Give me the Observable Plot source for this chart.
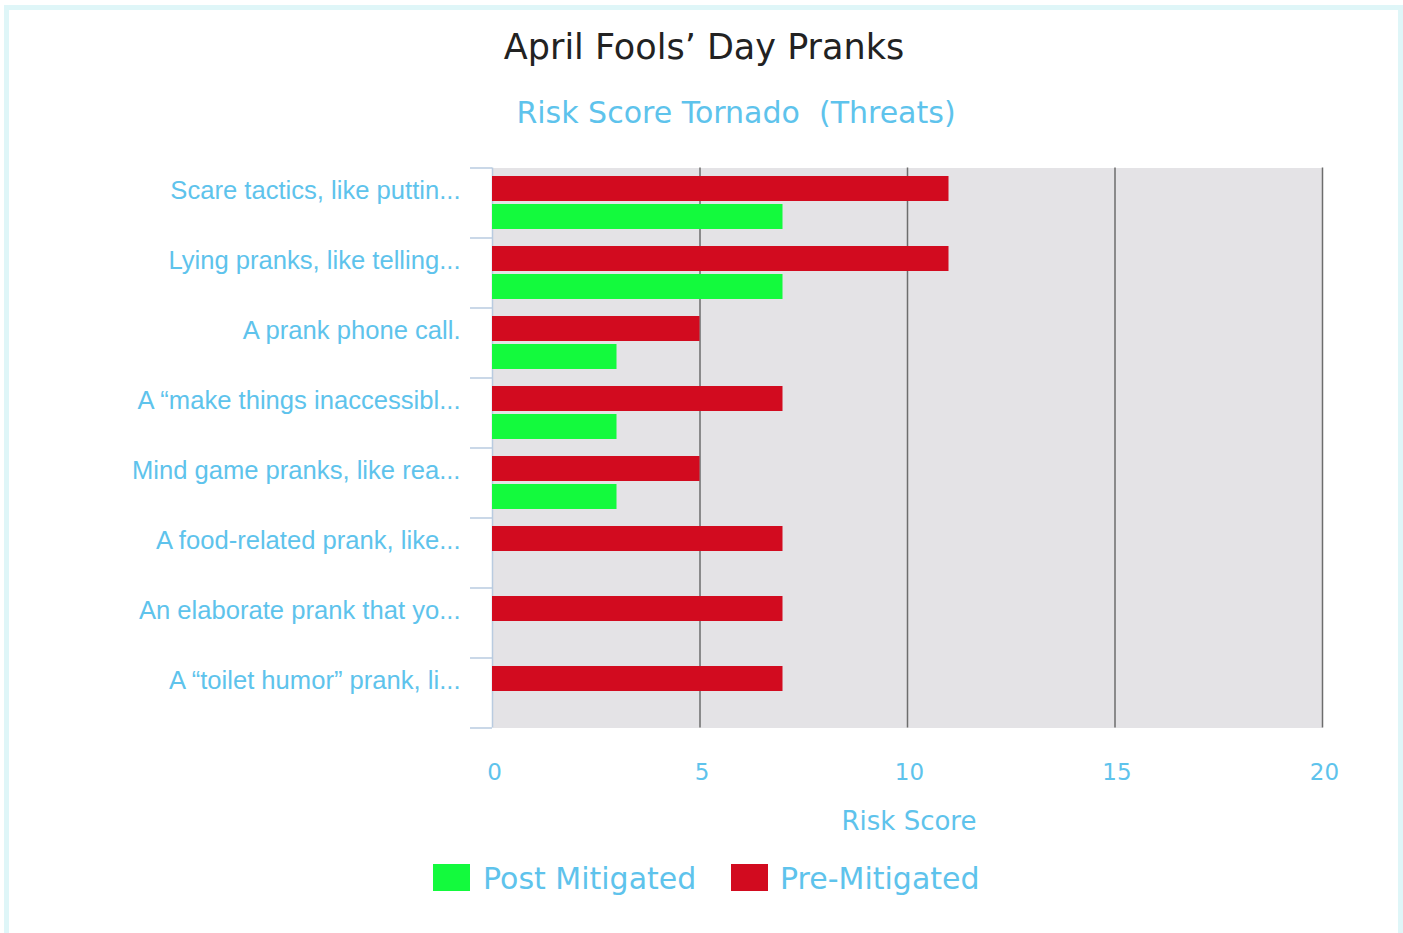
<!DOCTYPE html>
<html><head><meta charset="utf-8">
<script src="https://cdn.jsdelivr.net/npm/d3@7"></script>
<script src="https://cdn.jsdelivr.net/npm/@observablehq/plot@0.6"></script>
<style>
body{margin:0;background:#fff;width:1403px;height:933px;position:relative;overflow:hidden;font-family:"DejaVu Sans",sans-serif}
#frame{position:absolute;left:4px;top:5px;width:1389px;height:940px;border:5px solid #dff6f8;box-sizing:content-box}
.t{position:absolute;white-space:pre}
#title{left:0;width:1408px;text-align:center;top:27px;line-height:40px;font-size:35px;color:#222}
#subtitle{left:0;width:1472px;text-align:center;top:95px;line-height:36px;font-size:30px;color:#5ec3ec}
#xlabel{left:0;width:1818px;text-align:center;top:806px;line-height:30px;font-size:26px;color:#5ec3ec}
.sw{position:absolute;top:864px;width:37px;height:27px}
.lt{position:absolute;top:861px;line-height:36px;font-size:30px;color:#5ec3ec;white-space:pre}
#chart{position:absolute;left:0;top:0}
</style></head>
<body>
<div id="frame"></div>
<div id="title" class="t"></div>
<div id="subtitle" class="t"></div>
<div id="chart"></div>
<div id="xlabel" class="t"></div>
<div id="legend"></div>
<script>
const titleText = "April Fools’ Day Pranks";
const subtitleText = "Risk Score Tornado  (Threats)";
const xLabel = "Risk Score";
const categories = [
  "Scare tactics, like puttin...",
  "Lying pranks, like telling...",
  "A prank phone call.",
  "A “make things inaccessibl...",
  "Mind game pranks, like rea...",
  "A food-related prank, like...",
  "An elaborate prank that yo...",
  "A “toilet humor” prank, li..."
];
const preMitigated = [11, 11, 5, 7, 5, 7, 7, 7];
const postMitigated = [7, 7, 3, 3, 3, null, null, null];
const seriesNames = ["Post Mitigated", "Pre-Mitigated"];
const seriesColors = ["#13fa3d", "#d20b1f"];
const xTicks = [0, 5, 10, 15, 20];
const gridTicks = [5, 10, 15, 20];
const cyan = "#5ec3ec";

document.getElementById("title").textContent = titleText;
document.getElementById("subtitle").textContent = subtitleText;
document.getElementById("xlabel").textContent = xLabel;

const data = categories.map((c, i) => ({category: c, pre: preMitigated[i], post: postMitigated[i]}));

const chart = Plot.plot({
  width: 1403, height: 800,
  marginLeft: 492, marginRight: 81, marginTop: 167.5, marginBottom: 72.5,
  x: {domain: [0, 20], ticks: xTicks},
  y: {domain: categories, padding: 0},
  style: {background: "transparent", overflow: "visible"},
  marks: [
    Plot.frame({fill: "#e4e3e6", stroke: null}),
    Plot.ruleX(gridTicks, {stroke: "#6d6d6d", strokeWidth: 1.5}),
    Plot.ruleX([0], {stroke: "#b9cbe0", strokeWidth: 1.5}),
    Plot.barX(data, {y: "category", x: "pre", fill: seriesColors[1], insetTop: 8, insetBottom: 37}),
    Plot.barX(data.filter(d => d.post != null), {y: "category", x: "post", fill: seriesColors[0], insetTop: 36, insetBottom: 9}),
    Plot.axisX({ticks: xTicks, tickSize: 0, tickPadding: 36, dx: 2, fontSize: 23, color: cyan, fontFamily: "DejaVu Sans", label: null}),
    Plot.axisY({tickSize: 0, tickPadding: 32, dy: -13, fontSize: 25.6, color: cyan, fontFamily: "Liberation Sans", label: null})
  ]
});
document.getElementById("chart").appendChild(chart);

// band boundary ticks on the left
const ys = chart.scale("y"), xs = chart.scale("x");
const bw = ys.bandwidth;
const bounds = categories.map(c => ys.apply(c)).concat([ys.apply(categories[categories.length - 1]) + bw]);
const x0 = xs.apply(0);
d3.select(chart).append("g").selectAll("line").data(bounds).join("line")
  .attr("x1", x0 - 22).attr("x2", x0).attr("y1", d => d).attr("y2", d => d)
  .attr("stroke", "#b9cbe0").attr("stroke-width", 1.5);

// legend
const leg = document.getElementById("legend");
const swLeft = [433, 731], txLeft = [483, 780];
seriesNames.forEach((n, i) => {
  const s = document.createElement("div"); s.className = "sw";
  s.style.left = swLeft[i] + "px"; s.style.background = seriesColors[i]; leg.appendChild(s);
  const t = document.createElement("div"); t.className = "lt";
  t.style.left = txLeft[i] + "px"; t.textContent = n; leg.appendChild(t);
});
</script>
</body></html>
